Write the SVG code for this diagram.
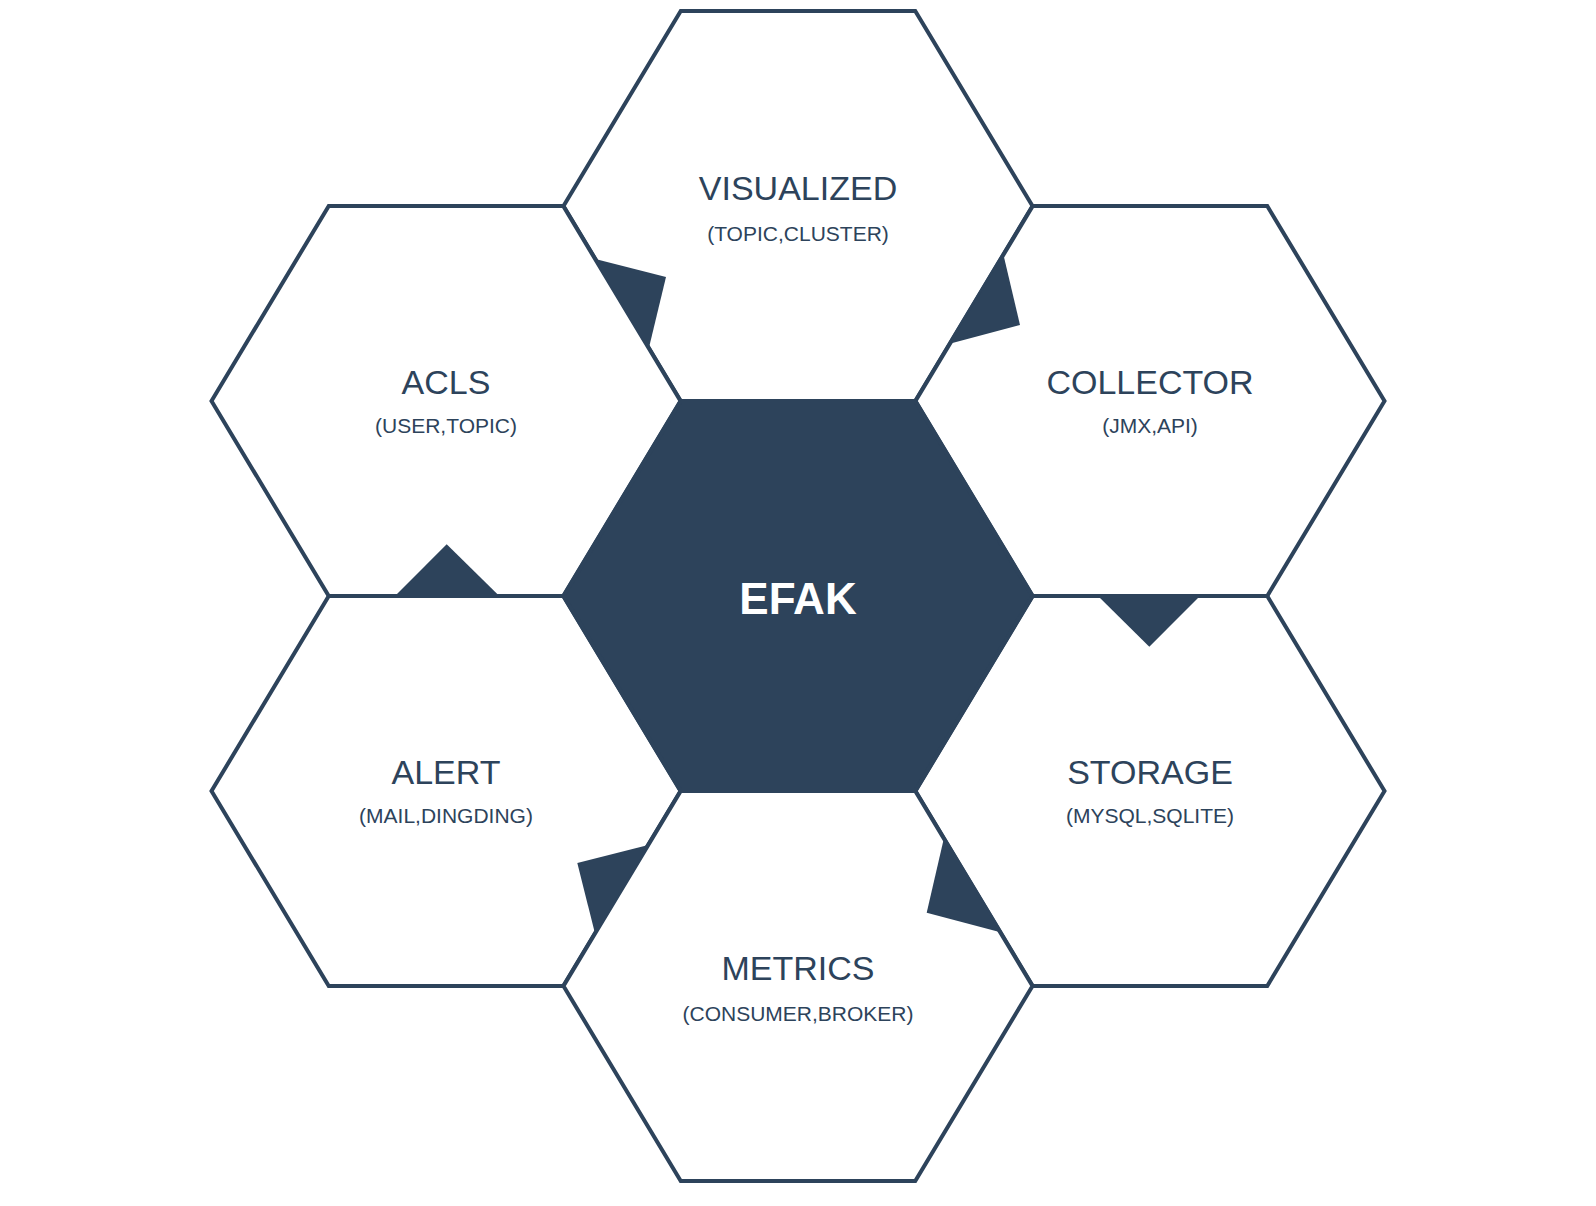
<svg xmlns="http://www.w3.org/2000/svg" xmlns:xlink="http://www.w3.org/1999/xlink" width="1596" height="1206" viewBox="0 0 1596 1206">
  <style>
    .hex { fill: #ffffff; stroke: #2d435b; stroke-width: 4; stroke-linejoin: miter; }
    .core { fill: #2d435b; stroke: #2d435b; stroke-width: 4; }
    .title { font-family: "Liberation Sans", Arial, sans-serif; font-size: 34px; fill: #2d435b; text-anchor: middle; }
    .sub { font-family: "Liberation Sans", Arial, sans-serif; font-size: 21px; fill: #2d435b; text-anchor: middle; }
    .core-label { font-family: "Liberation Sans", Arial, sans-serif; font-size: 44px; font-weight: bold; fill: #ffffff; text-anchor: middle; }
    .tab { fill: #2d435b; stroke: none; }
  </style>
  <defs>
    <polygon id="hexshape" points="-234.5,0 -117.25,-195 117.25,-195 234.5,0 117.25,195 -117.25,195"/>
  </defs>
  <rect width="1596" height="1206" fill="#ffffff"/>

  <g id="node-visualized">
    <use xlink:href="#hexshape" href="#hexshape" class="hex" transform="translate(798,206)"/>
    <text class="title" x="798" y="200">VISUALIZED</text>
    <text class="sub" x="798" y="240.5">(TOPIC,CLUSTER)</text>
  </g>
  <g id="node-acls">
    <use xlink:href="#hexshape" href="#hexshape" class="hex" transform="translate(446,401)"/>
    <text class="title" x="446" y="394">ACLS</text>
    <text class="sub" x="446" y="433.3">(USER,TOPIC)</text>
  </g>
  <g id="node-collector">
    <use xlink:href="#hexshape" href="#hexshape" class="hex" transform="translate(1150,401)"/>
    <text class="title" x="1150" y="393.5">COLLECTOR</text>
    <text class="sub" x="1150" y="432.8">(JMX,API)</text>
  </g>
  <g id="node-alert">
    <use xlink:href="#hexshape" href="#hexshape" class="hex" transform="translate(446,791)"/>
    <text class="title" x="446" y="784">ALERT</text>
    <text class="sub" x="446" y="823.3">(MAIL,DINGDING)</text>
  </g>
  <g id="node-storage">
    <use xlink:href="#hexshape" href="#hexshape" class="hex" transform="translate(1150,791)"/>
    <text class="title" x="1150" y="783.5">STORAGE</text>
    <text class="sub" x="1150" y="823.3">(MYSQL,SQLITE)</text>
  </g>
  <g id="node-metrics">
    <use xlink:href="#hexshape" href="#hexshape" class="hex" transform="translate(798,986)"/>
    <text class="title" x="798" y="980">METRICS</text>
    <text class="sub" x="798" y="1020.6">(CONSUMER,BROKER)</text>
  </g>
  <g id="node-efak">
    <use xlink:href="#hexshape" href="#hexshape" class="core" transform="translate(798,596)"/>
    <text class="core-label" x="798" y="613.5">EFAK</text>
  </g>

  <g id="connectors">
    <polygon class="tab" points="595.3,258.9 666,277 648.9,348.1"/>
    <polygon class="tab" points="1003.5,255 1020,325 950.5,343.5"/>
    <polygon class="tab" points="1098,596 1200,596 1149.3,646.7"/>
    <polygon class="tab" points="943.5,840 999.5,932 926.7,912.7"/>
    <polygon class="tab" points="648.3,845 595,933.5 577.3,863"/>
    <polygon class="tab" points="395,596 499.3,596 446.7,544.3"/>
  </g>
</svg>
